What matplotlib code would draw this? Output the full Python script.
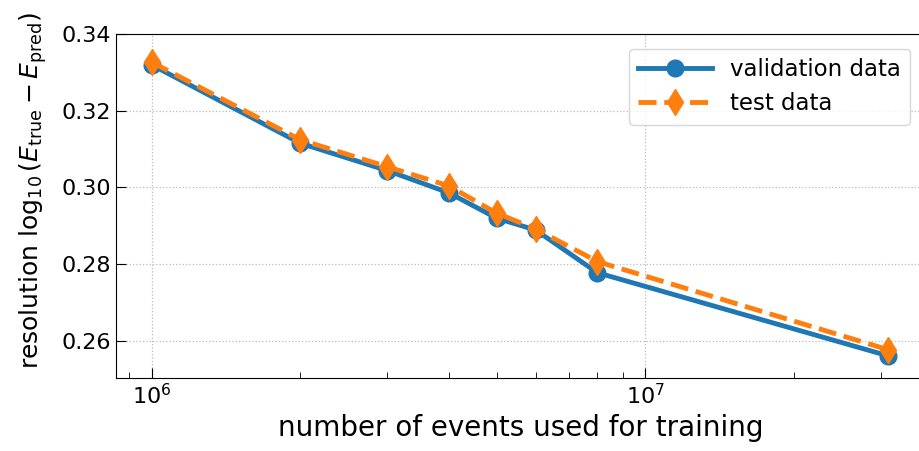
import matplotlib
matplotlib.use("Agg")
import matplotlib.pyplot as plt

n_events = [1e6, 2e6, 3e6, 4e6, 5e6, 6e6, 8e6, 3.1e7]
res_validation = [0.3319, 0.3115, 0.3044, 0.2986, 0.2920, 0.2889, 0.2778, 0.2562]
res_test = [0.3326, 0.3124, 0.3054, 0.3004, 0.2933, 0.2892, 0.2807, 0.2578]

fig = plt.figure(figsize=(9.19, 4.51), dpi=100)
ax = fig.add_axes([0.126, 0.162, 0.881, 0.763])

ax.plot(n_events, res_validation, marker='o', color='#1f77b4', linestyle='-',
        linewidth=3.5, markersize=12, label='validation data')
ax.plot(n_events, res_test, marker='d', color='#ff7f0e', linestyle='--',
        linewidth=3.5, markersize=13, label='test data')

ax.set_xscale('log')
ax.set_xlim(8.45e5, 3.7e7)
ax.set_ylim(0.2504, 0.34)
ax.set_yticks([0.26, 0.28, 0.30, 0.32, 0.34])

ax.set_xlabel('number of events used for training', fontsize=20, labelpad=4)
ax.set_ylabel(r'resolution $\log_{10}(E_{\rm true} - E_{\rm pred})$', fontsize=18)
ax.yaxis.set_label_coords(-0.082, 0.545)
ax.tick_params(which='both', direction='in', labelsize=16)
ax.tick_params(which='major', length=7)
ax.tick_params(which='minor', length=4)
ax.grid(True, which='major', linestyle=':', color='#bbbbbb', linewidth=0.9)
ax.legend(loc='upper right', fontsize=16.5, handlelength=3.2,
          bbox_to_anchor=(0.995, 0.99))

fig.savefig('out.png', dpi=100)
